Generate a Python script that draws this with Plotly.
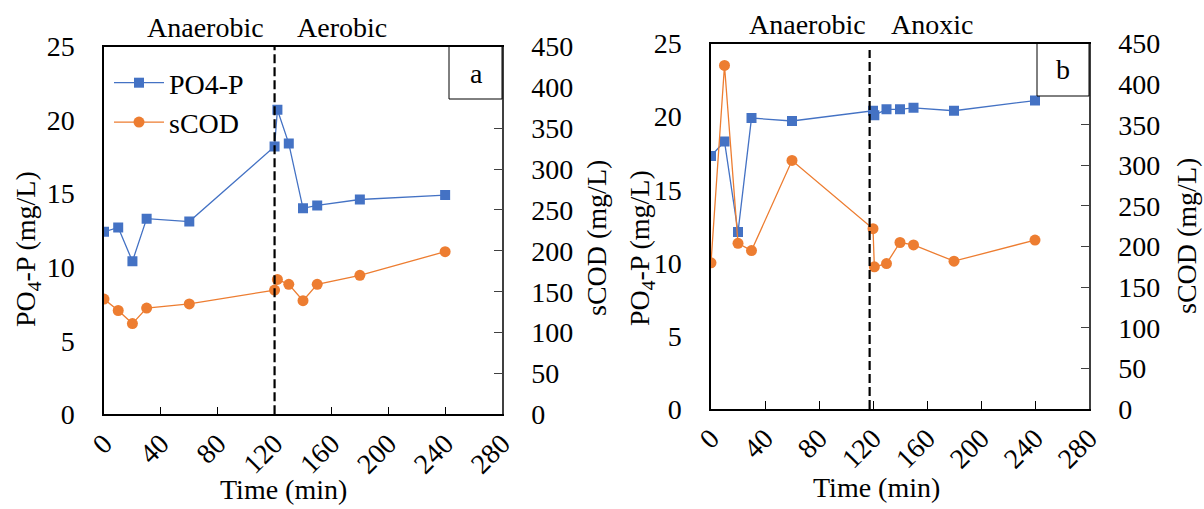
import plotly.graph_objects as go

# ---------------- data ----------------
time_a = [0, 10, 20, 30, 60, 120, 122, 130, 140, 150, 180, 240]
po4_a = [12.4, 12.7, 10.4, 13.3, 13.1, 18.2, 20.7, 18.4, 14.0, 14.2, 14.6, 14.9]
scod_a = [141, 127, 111, 130, 135, 152, 165, 159, 139, 159, 170, 199]

time_b = [0, 10, 20, 30, 60, 120, 121, 130, 140, 150, 180, 240]
po4_b = [17.3, 18.3, 12.1, 19.9, 19.7, 20.4, 20.1, 20.5, 20.5, 20.6, 20.4, 21.1]
scod_b = [180, 423, 204, 195, 306, 222, 175, 179, 205, 202, 182, 208]

phase_switch_a = 120
phase_switch_b = 117.5
phase_labels_a = ["Anaerobic", "Aerobic"]
phase_labels_b = ["Anaerobic", "Anoxic"]
panel_labels = ["a", "b"]

x_ticks = [0, 40, 80, 120, 160, 200, 240, 280]

# ---------------- layout helpers ----------------
W, H = 1204, 509
FONT = "Liberation Serif"
FS = 28
BLUE = "#4472C4"
ORANGE = "#ED7D31"


def px(x):
    return x / W


def py(y):
    return 1 - y / H


dom_a_x = [px(104), px(502)]
dom_a_y = [py(414.3), py(46.5)]
dom_b_x = [px(711), px(1089)]
dom_b_y = [py(409), py(43.5)]

fig = go.Figure()

blue_style = dict(mode="lines+markers", line=dict(color=BLUE, width=1.3),
                  marker=dict(symbol="square", size=10, color=BLUE))
orange_style = dict(mode="lines+markers", line=dict(color=ORANGE, width=1.3),
                    marker=dict(symbol="circle", size=11, color=ORANGE))

fig.add_trace(go.Scatter(x=time_a, y=po4_a, name="PO4-P", xaxis="x", yaxis="y", **blue_style))
fig.add_trace(go.Scatter(x=time_a, y=scod_a, name="sCOD", xaxis="x", yaxis="y2", **orange_style))
fig.add_trace(go.Scatter(x=time_b, y=po4_b, name="PO4-P", xaxis="x2", yaxis="y3",
                         showlegend=False, **blue_style))
fig.add_trace(go.Scatter(x=time_b, y=scod_b, name="sCOD", xaxis="x2", yaxis="y4",
                         showlegend=False, **orange_style))

tickfont = dict(family=FONT, size=FS, color="black")

xcommon = dict(range=[0, 280], tickvals=x_ticks, tickangle=-45, ticks="inside", ticklen=8,
               tickcolor="black", showline=True, linecolor="black", linewidth=1.5,
               mirror=True, showgrid=False, zeroline=False, tickfont=tickfont,
               automargin=False)
yleft = dict(range=[0, 25], dtick=5, ticks="", showline=True, linecolor="black",
             linewidth=1.5, showgrid=False, zeroline=False, tickfont=tickfont,
             ticklabelstandoff=22, automargin=False)
yright = dict(range=[0, 450], dtick=50, ticks="inside", ticklen=8, tickcolor="#404040",
              showline=True, linecolor="#404040", linewidth=1.5, showgrid=False,
              zeroline=False, side="right", tickfont=tickfont, ticklabelstandoff=22,
              automargin=False)

fig.update_layout(
    width=W, height=H, autosize=False,
    margin=dict(l=0, r=0, t=0, b=0, autoexpand=False),
    paper_bgcolor="white", plot_bgcolor="white",
    font=dict(family=FONT, size=FS, color="black"),
    xaxis=dict(domain=dom_a_x, anchor="y", **xcommon),
    yaxis=dict(domain=dom_a_y, anchor="x", **yleft),
    yaxis2=dict(overlaying="y", anchor="x", **yright),
    xaxis2=dict(domain=dom_b_x, anchor="y3", **xcommon),
    yaxis3=dict(domain=dom_b_y, anchor="x2", **yleft),
    yaxis4=dict(overlaying="y3", anchor="x2", **yright),
    showlegend=True,
    legend=dict(x=px(109), y=py(58), xanchor="left", yanchor="top",
                bgcolor="rgba(0,0,0,0)", font=dict(family=FONT, size=FS),
                itemwidth=50, tracegroupgap=0),
)

shapes = []
# phase switch dashed lines
shapes.append(dict(type="line", xref="x", yref="paper", x0=phase_switch_a, x1=phase_switch_a,
                   y0=dom_a_y[0], y1=dom_a_y[1], line=dict(color="black", width=2.2, dash="9px,4px")))
shapes.append(dict(type="line", xref="x2", yref="paper", x0=phase_switch_b, x1=phase_switch_b,
                   y0=dom_b_y[0], y1=py(50), line=dict(color="black", width=2.2, dash="9px,4px")))
# panel label boxes
shapes.append(dict(type="rect", xref="paper", yref="paper", x0=px(449), x1=dom_a_x[1],
                   y0=py(99), y1=dom_a_y[1], line=dict(color="black", width=1), fillcolor="white"))
shapes.append(dict(type="rect", xref="paper", yref="paper", x0=px(1037), x1=dom_b_x[1],
                   y0=py(96), y1=dom_b_y[1], line=dict(color="black", width=1), fillcolor="white"))
fig.update_layout(shapes=shapes)

ann = []


def text(x, y, s, angle=0):
    ann.append(dict(xref="paper", yref="paper", x=px(x), y=py(y), text=s, showarrow=False,
                    xanchor="center", yanchor="middle", textangle=angle,
                    font=dict(family=FONT, size=FS, color="black")))


text(476, 73, panel_labels[0])
text(1063, 70, panel_labels[1])
text(205, 27, phase_labels_a[0])
text(342, 27, phase_labels_a[1])
text(807, 25, phase_labels_b[0])
text(932, 25, phase_labels_b[1])
text(283, 489, "Time (min)")
text(876, 487, "Time (min)")
text(27, 249, "PO<sub>4</sub>-P (mg/L)", -90)
text(596, 238, "sCOD (mg/L)", -90)
text(641, 248, "PO<sub>4</sub>-P (mg/L)", -90)
text(1186, 236, "sCOD (mg/L)", -90)
fig.update_layout(annotations=ann)

fig.write_html("out.html")
